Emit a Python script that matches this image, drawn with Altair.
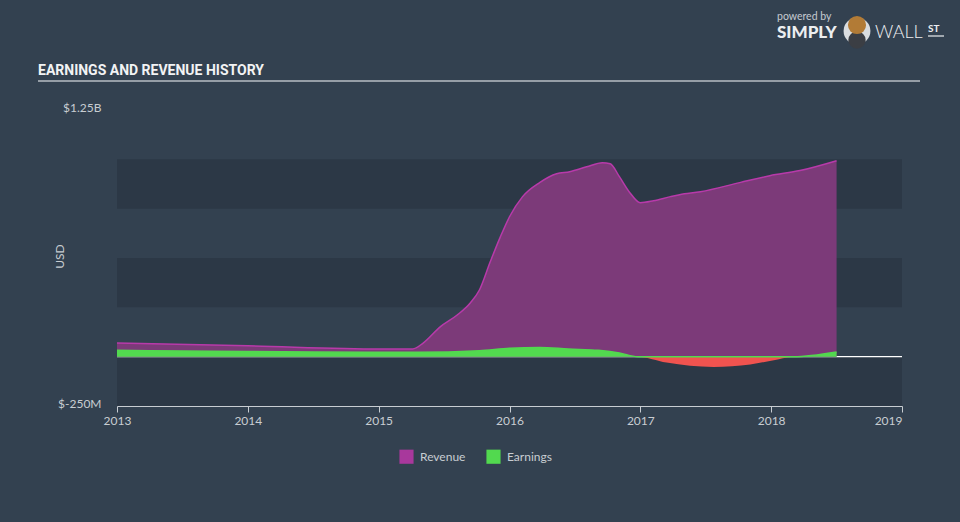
import altair as alt
import pandas as pd

# ---- data (values in millions of USD) ----
rev_years = [2013.0, 2014.0, 2015.01, 2015.26, 2015.34, 2015.47, 2015.60, 2015.70, 2015.77,
             2015.85, 2015.93, 2016.0, 2016.10, 2016.23, 2016.36, 2016.46, 2016.59, 2016.71,
             2016.77, 2016.84, 2016.92, 2017.0, 2017.10, 2017.23, 2017.30, 2017.46, 2017.76,
             2017.99, 2018.22, 2018.5]
rev_vals = [69, 55, 39, 39, 69, 151, 211, 272, 338, 476, 607, 709, 811, 882, 927, 937, 962,
            983, 978, 912, 831, 780, 790, 811, 821, 836, 882, 917, 943, 993]

earn_years = [2013.0, 2013.5, 2014.0, 2014.5, 2015.0, 2015.3, 2015.77, 2016.0, 2016.23,
              2016.45, 2016.68, 2016.84, 2016.98, 2017.2, 2017.56, 2017.84, 2018.01, 2018.17, 2018.5]
earn_vals = [32, 29, 26, 24, 22, 22, 30, 43, 47, 39, 32, 19, 0, -30, -52, -40, -19, 0, 24]

series_names = ["Revenue", "Earnings"]
series_colors = ["#a8389c", "#52d94f"]
year_ticks = [2013, 2014, 2015, 2016, 2017, 2018, 2019]
band_lo = [750, 250, -250]
band_hi = [1000, 500, 0]

W, H = 785, 296
BG = "#334150"
BAND = "#2c3846"
AXC = "#c8cdd2"
FONT = "Lato"

rev_df = pd.DataFrame({"year": rev_years, "value": rev_vals})
earn_df = pd.DataFrame({"year": earn_years, "value": earn_vals})
earn_df["pos"] = earn_df["value"].clip(lower=0)
earn_df["neg"] = earn_df["value"].clip(upper=0)
band_df = pd.DataFrame({"lo": band_lo, "hi": band_hi})
zero_df = pd.DataFrame({"value": [0]})
leg_df = pd.DataFrame({"series": series_names, "year": [2013, 2013], "value": [0, 0]})
one = pd.DataFrame({"a": [0]})

xscale = alt.Scale(domain=[2013, 2019], nice=False, zero=False)
yscale = alt.Scale(domain=[-250, 1250], nice=False)

xaxis = alt.Axis(values=year_ticks, format="d", title=None, grid=False,
                 tickSize=6, tickColor=AXC, domainColor=AXC, tickWidth=1, domainWidth=1,
                 labelColor=AXC, labelFont=FONT, labelFontSize=12, labelPadding=3,
                 labelAlign={"condition": {"test": "datum.value == 2019", "value": "right"},
                             "value": "center"})
yaxis = alt.Axis(values=[-250, 1250], title="USD", grid=False, domain=False, ticks=False,
                 labelExpr="datum.value == 1250 ? '$1.25B' : '$-250M'",
                 labelColor=AXC, labelFont=FONT, labelFontSize=12, labelPadding=16,
                 labelOffset=-3,
                 titleColor=AXC, titleFont=FONT, titleFontSize=12, titleFontWeight="normal",
                 titleX=-58, titleY=146, titleAngle=270, titleAlign="center",
                 titleBaseline="middle")

X = lambda f: alt.X(f, type="quantitative", scale=xscale, axis=xaxis)
Y = lambda f: alt.Y(f, type="quantitative", scale=yscale, axis=yaxis)

bands = alt.Chart(band_df).mark_rect(color=BAND).encode(
    x=alt.value(0), x2=alt.value(W), y=Y("hi"), y2="lo")

zero = alt.Chart(zero_df).mark_rule(color="#ffffff", strokeWidth=1.2).encode(
    x=alt.value(0), x2=alt.value(W), y=Y("value"))

rev = alt.Chart(rev_df).mark_area(
    interpolate="monotone", color="#7c3a79", opacity=1,
    line={"color": "#b83aaa", "strokeWidth": 1.5}).encode(x=X("year"), y=Y("value"))

earn_pos = alt.Chart(earn_df).mark_area(
    interpolate="monotone", color="#52d94f", opacity=1,
    line={"color": "#52d94f", "strokeWidth": 1.5}).encode(x=X("year"), y=Y("pos"))

earn_neg = alt.Chart(earn_df).mark_area(
    interpolate="monotone", color="#f0534f", opacity=1).encode(x=X("year"), y=Y("neg"))

legend_layer = alt.Chart(leg_df).mark_point(shape="square", filled=True, opacity=0).encode(
    x=X("year"), y=Y("value"),
    color=alt.Color("series:N", scale=alt.Scale(domain=series_names, range=series_colors),
                    legend=alt.Legend(orient="none", legendX=282, legendY=339,
                                      direction="horizontal", title=None,
                                      symbolType="square", symbolSize=200, symbolOpacity=1,
                                      symbolStrokeWidth=0, labelColor=AXC, labelFont=FONT,
                                      labelFontSize=12, labelOffset=6, columnPadding=20)))

def txt(s, x, y, size, weight="normal", color="#ffffff", font=FONT, align="left"):
    return alt.Chart(one).mark_text(text=s, font=font, fontSize=size, fontWeight=weight,
                                    color=color, align=align, baseline="alphabetic").encode(
        x=alt.value(x), y=alt.value(y))

title = txt("EARNINGS AND REVENUE HISTORY", -79, -35, 14, "bold", "#f2f3f4",
            font="Roboto")
header_rule = alt.Chart(one).mark_rule(color="#b8bec4", strokeWidth=1.5).encode(
    x=alt.value(-79), x2=alt.value(803), y=alt.value(-29))

powered = txt("powered by", 660, -90, 10.5, "normal", "#c5cad0")
simply = txt("SIMPLY", 660, -72, 17, 900, "#eceef0")
wall = txt("WALL", 758, -72, 18, 300, "#eceef0")
st = txt("ST", 811, -78, 10, "bold", "#eceef0")
st_rule = alt.Chart(one).mark_rule(color="#eceef0", strokeWidth=1.2).encode(
    x=alt.value(811), x2=alt.value(827), y=alt.value(-74))
bull_bg = alt.Chart(one).mark_point(shape="circle", filled=True, size=720, color="#d9dcdf",
                                    opacity=1).encode(x=alt.value(740), y=alt.value(-79))
bull_suit = alt.Chart(one).mark_point(shape="circle", filled=True, size=300, color="#3b3e44",
                                      opacity=1).encode(x=alt.value(740), y=alt.value(-70))
bull_face = alt.Chart(one).mark_point(shape="circle", filled=True, size=330, color="#b27b36",
                                      opacity=1).encode(x=alt.value(740), y=alt.value(-85))

chart = alt.layer(
    bands, zero, rev, earn_neg, earn_pos, legend_layer,
    title, header_rule, powered, simply, wall, st, st_rule, bull_bg, bull_suit, bull_face
).properties(
    width=W, height=H,
    autosize=alt.AutoSizeParams(type="none"),
    padding={"left": 117, "top": 110, "right": 58, "bottom": 116},
    background=BG,
).configure_view(stroke=None)

chart.save("out.html", embed_options={"renderer": "svg", "actions": False})
